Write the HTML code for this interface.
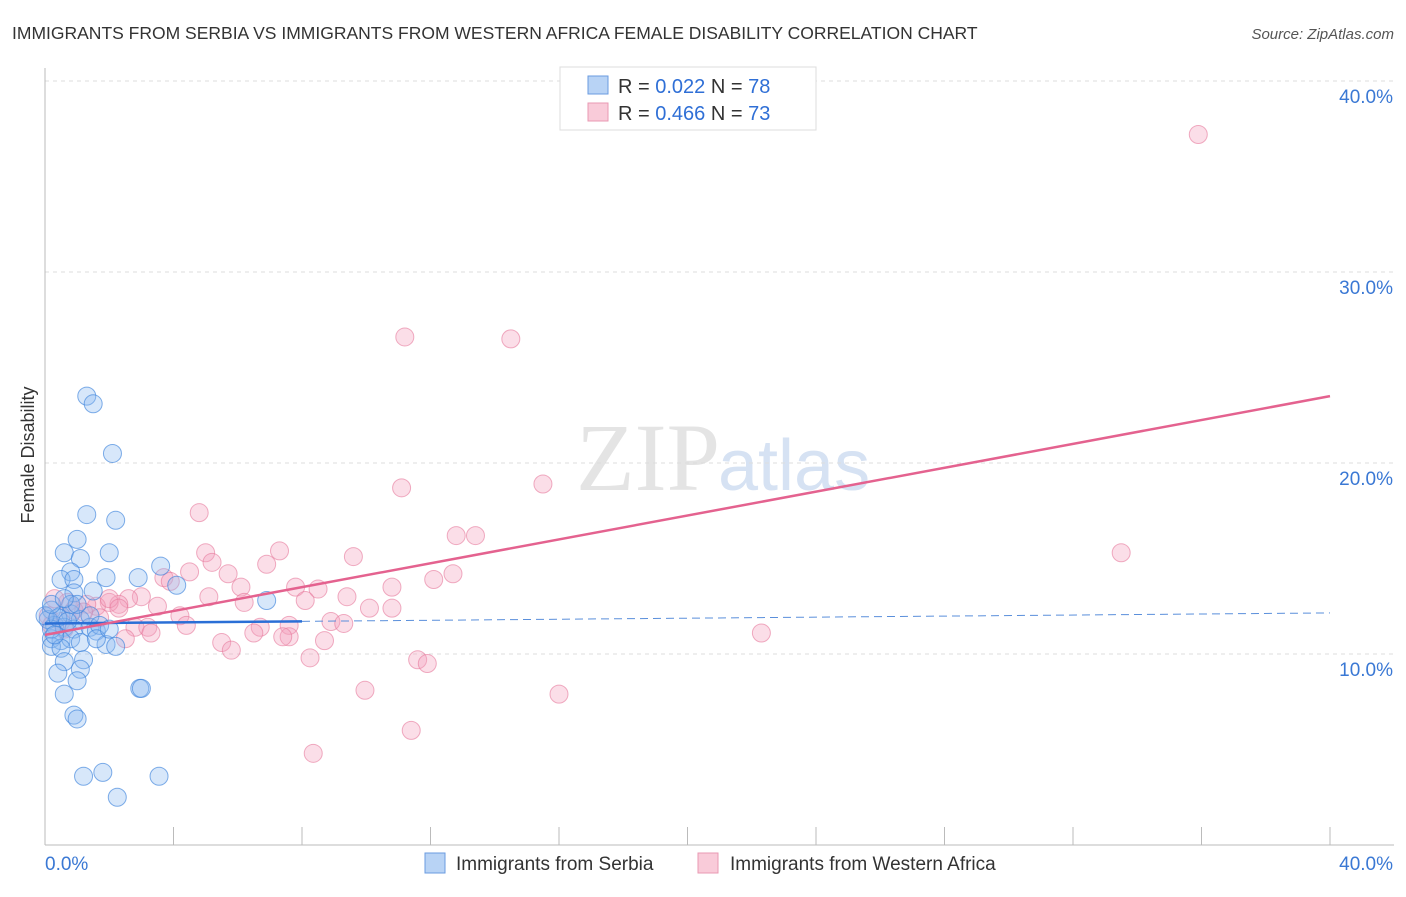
<!DOCTYPE html><html><head><meta charset="utf-8"><style>
body{margin:0;background:#fff;font-family:"Liberation Sans",sans-serif}
</style></head><body>
<svg width="1406" height="892" xmlns="http://www.w3.org/2000/svg" font-family="Liberation Sans, sans-serif">
<text x="12" y="39" font-size="17.5" fill="#333">IMMIGRANTS FROM SERBIA VS IMMIGRANTS FROM WESTERN AFRICA FEMALE DISABILITY CORRELATION CHART</text>
<text x="1394" y="39" font-size="15" fill="#555" text-anchor="end" font-style="italic">Source: ZipAtlas.com</text>
<text x="720" y="490" font-size="96" fill="#e4e4e4" text-anchor="end" font-family="Liberation Serif, serif">ZIP</text>
<text x="718" y="490" font-size="72" fill="#d6e2f3">atlas</text>
<g id="grid"></g><g id="axes"></g><g id="pts"></g><g id="lines"></g>
<text x="34" y="455" font-size="18" fill="#333" text-anchor="middle" transform="rotate(-90 34 455)">Female Disability</text>
<g>
<rect x="560" y="67" width="256" height="63" fill="#fff" stroke="#ddd"/>
<rect x="588" y="76" width="20" height="18" fill="#b8d3f5" stroke="#6a9be0"/>
<rect x="588" y="103" width="20" height="18" fill="#f9cbd9" stroke="#e99ab3"/>
<text x="618" y="93" font-size="20" fill="#333">R = <tspan fill="#2f6fd6">0.022</tspan>   N = <tspan fill="#2f6fd6">78</tspan></text>
<text x="618" y="120" font-size="20" fill="#333">R = <tspan fill="#2f6fd6">0.466</tspan>   N = <tspan fill="#2f6fd6">73</tspan></text>
</g>
<g>
<rect x="425" y="853" width="20" height="20" fill="#b8d3f5" stroke="#6a9be0"/>
<text x="456" y="870" font-size="19" fill="#333">Immigrants from Serbia</text>
<rect x="698" y="853" width="20" height="20" fill="#f9cbd9" stroke="#e99ab3"/>
<text x="730" y="870" font-size="19" fill="#333">Immigrants from Western Africa</text>
</g>
</svg>
<script>
const yTicks=[10,20,30,40];
const xTickLabels=["0.0%","40.0%"];
const blueX=[1.3,1.5,2.1,1.3,2.2,0.6,1.0,1.1,2.0,3.6,4.1,0.8,0.5,0.9,1.9,2.9,1.5,0.9,6.9,0.2,0.5,0.8,1.1,0.3,0.6,0.9,1.4,1.6,0.2,0.5,0.8,1.1,1.9,2.2,0.2,0.5,1.2,0.6,1.1,0.4,1.0,0.6,2.95,3.0,0.9,1.0,1.2,1.8,3.55,2.25,0.1,0.2,0.3,0.0,0.4,0.7,0.8,1.4,1.7,0.2,1.0,0.6,1.6,2.0];
const blueY=[23.5,23.1,20.5,17.3,17.0,15.3,16.0,15.0,15.3,14.6,13.6,14.3,13.9,13.9,14.0,14.0,13.3,13.2,12.8,12.3,12.0,12.1,11.8,11.5,11.4,11.3,11.4,11.2,10.8,10.7,10.8,10.6,10.5,10.4,10.4,10.3,9.7,9.6,9.2,9.0,8.6,7.9,8.2,8.2,6.8,6.6,3.6,3.8,3.6,2.5,11.8,11.3,11.0,12.0,11.9,11.7,12.6,12.0,11.5,12.6,12.6,12.9,10.8,11.3];
const pinkX=[35.9,11.2,14.5,11.1,15.5,4.8,12.8,13.4,33.5,5.0,7.3,9.6,5.2,6.9,4.5,5.7,12.1,12.7,3.7,3.9,6.1,7.8,8.5,10.8,5.1,3.0,2.6,3.5,6.2,8.1,9.4,10.1,10.8,4.2,4.4,2.3,2.0,1.6,1.3,0.7,0.3,2.8,3.2,6.7,7.6,8.9,9.3,7.6,6.5,7.4,5.5,5.8,2.5,8.7,22.3,8.25,11.6,11.9,9.96,16.0,11.4,8.35,0.1,0.5,0.9,0.2,1.7,0.6,1.2,2.0,2.3,3.3];
const pinkY=[37.2,26.6,26.5,18.7,18.9,17.4,16.2,16.2,15.3,15.3,15.4,15.1,14.8,14.7,14.3,14.2,13.9,14.2,14.0,13.8,13.5,13.5,13.4,13.5,13.0,13.0,12.9,12.5,12.7,12.8,13.0,12.4,12.4,12.0,11.5,12.6,12.7,12.5,12.6,12.7,12.9,11.4,11.4,11.4,11.5,11.7,11.6,10.9,11.1,10.9,10.6,10.2,10.8,10.7,11.1,9.8,9.7,9.5,8.1,7.9,6.0,4.8,12.0,11.7,12.3,11.5,11.9,11.3,12.2,12.9,12.4,11.1];
const blueFit=[11.6,12.15];const blueSolidEnd=8;
const pinkFit=[11.0,23.5];
const NS="http://www.w3.org/2000/svg";
const X=v=>45+v*32.125, Y=v=>845-v*19.1;
function mk(t,a,p){const e=document.createElementNS(NS,t);for(const k in a)e.setAttribute(k,a[k]);document.getElementById(p).appendChild(e);return e;}
yTicks.forEach(t=>{
const g=mk('line',{x1:45,x2:1394,y1:Y(t),y2:Y(t),stroke:'#ddd','stroke-dasharray':'4,4'},'grid');


const l=mk('text',{x:1393,y:Y(t)+22,'font-size':19,fill:'#3a78d4','text-anchor':'end'},'axes');
l.textContent=t.toFixed(1)+'%';


});
const ax=mk('line',{x1:45,x2:1394,y1:845,y2:845,stroke:'#bbb'},'axes');


const ay=mk('line',{x1:45,x2:45,y1:68,y2:845,stroke:'#bbb'},'axes');


for(let i=0;i<=10;i++){const tk=mk('line',{x1:X(i*4),x2:X(i*4),y1:827,y2:845,stroke:'#bbb'},'axes');

}
xTickLabels.forEach((s,i)=>{const t=mk('text',{x:i?1393:45,y:870,'font-size':19,fill:'#3a78d4','text-anchor':i?'end':'start'},'axes');t.textContent=s;

});
pinkX.forEach((v,i)=>{const c=mk('circle',{cx:X(v),cy:Y(pinkY[i]),r:9,fill:'rgba(244,160,188,0.35)',stroke:'rgba(230,120,155,0.6)'},'pts');

});
blueX.forEach((v,i)=>{const c=mk('circle',{cx:X(v),cy:Y(blueY[i]),r:9,fill:'rgba(140,185,240,0.35)',stroke:'rgba(60,130,220,0.65)'},'pts');

});
const bAt=x=>blueFit[0]+(blueFit[1]-blueFit[0])*x/40;
const b1=mk('line',{x1:X(0),y1:Y(bAt(0)),x2:X(blueSolidEnd),y2:Y(bAt(blueSolidEnd)),stroke:'#2a6fd6','stroke-width':2.5},'lines');


const b2=mk('line',{x1:X(blueSolidEnd),y1:Y(bAt(blueSolidEnd)),x2:X(40),y2:Y(bAt(40)),stroke:'#5a8fdb','stroke-width':1,'stroke-dasharray':'8,5'},'lines');


const p=mk('line',{x1:X(0),y1:Y(pinkFit[0]),x2:X(40),y2:Y(pinkFit[1]),stroke:'#e4628f','stroke-width':2.5},'lines');


</script></body></html>
